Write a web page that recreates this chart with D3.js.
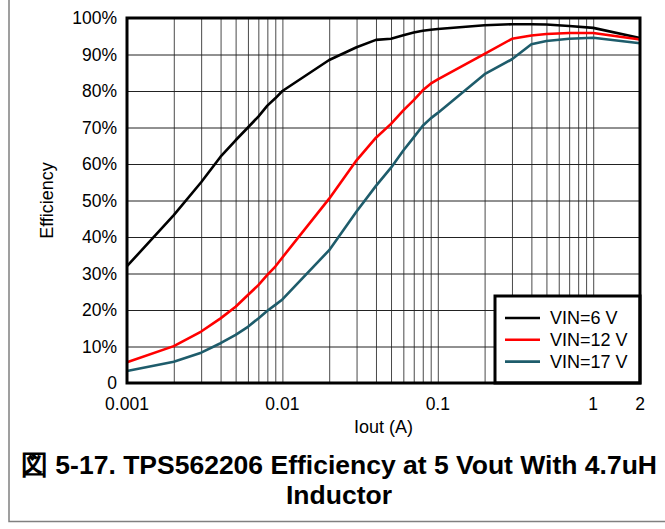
<!DOCTYPE html>
<html>
<head>
<meta charset="utf-8">
<script src="https://cdn.jsdelivr.net/npm/d3@7"></script>
<style>
	body { margin: 0; background: #fff; }
	svg { display: block; font-family: "Liberation Sans", Arial, sans-serif; }
</style>
</head>
<body>
<svg class="chart-container" width="665" height="529"></svg>
<script>
// data
const currents = [0.001, 0.002, 0.003, 0.004, 0.005, 0.006, 0.007, 0.008, 0.009, 0.01,
	0.02, 0.03, 0.04, 0.05, 0.06, 0.07, 0.08, 0.09, 0.1, 0.2, 0.3, 0.4, 0.5, 0.7, 1, 2];
const vin6 = [32, 46, 55, 62, 66.5, 70, 73, 76, 78, 80,
	88.5, 92, 94, 94.3, 95.3, 96, 96.5, 96.8, 97, 98, 98.3, 98.3, 98.2, 97.8, 97.3, 94.5];
const vin12 = [5.7, 10.1, 14.1, 17.7, 20.9, 24.1, 26.8, 29.6, 31.9, 34.4,
	50.5, 61, 67.2, 71, 74.7, 77.5, 80.2, 82, 83.2, 90.2, 94.3, 95.2, 95.6, 95.9, 95.9, 94.1];
const vin17 = [3.3, 5.8, 8.3, 10.9, 13.2, 15.4, 17.7, 19.8, 21.4, 22.9,
	36.4, 47, 54, 59, 63.7, 67.3, 70.5, 72.5, 74, 84.6, 88.7, 92.8, 93.7, 94.3, 94.6, 93.1];

const seriesNames = ['VIN=6 V', 'VIN=12 V', 'VIN=17 V'];
const seriesColors = ['#000000', '#ff0000', '#1e5c6b'];
const xTickValues = [0.001, 0.01, 0.1, 1, 2];
const yTickValues = [0, 10, 20, 30, 40, 50, 60, 70, 80, 90, 100];
const titleLines = ['図 5-17. TPS562206 Efficiency at 5 Vout With 4.7uH', 'Inductor'];

// margin conventions
const margin = { top: 18, right: 25, bottom: 146, left: 127 };
const width = 665 - margin.left - margin.right;
const height = 529 - margin.top - margin.bottom;

const x = d3.scaleLog().domain([0.001, 2]).range([0, width]);
const y = d3.scaleLinear().domain([0, 100]).range([height, 0]);

const svg = d3.select('.chart-container');

// outer frame of the figure
svg.append('path')
	.attr('d', 'M9,-2 L9,521.5 L670,521.5')
	.attr('fill', 'none')
	.attr('stroke', '#808080')
	.attr('stroke-width', 1.5);

const plot = svg.append('g').attr('transform', 'translate(' + margin.left + ',' + margin.top + ')');

// grid lines: every 1..9 of each decade
const minorTicks = [];
[0.001, 0.01, 0.1, 1].forEach(function(dec) {
	for (let k = 1; k <= 9; k++) {
		const v = dec * k;
		if (v > 0.001 && v < 2) minorTicks.push(v);
	}
});

plot.append('g')
	.attr('class', 'grid-x')
	.attr('transform', 'translate(0,' + height + ')')
	.call(d3.axisBottom(x).tickValues(minorTicks).tickSize(-height).tickFormat(''))
	.call(g => g.select('.domain').remove())
	.call(g => g.selectAll('line').attr('stroke', '#4a4a4a').attr('stroke-width', 1));

plot.append('g')
	.attr('class', 'grid-y')
	.call(d3.axisLeft(y).tickValues(yTickValues.slice(1, -1)).tickSize(-width).tickFormat(''))
	.call(g => g.select('.domain').remove())
	.call(g => g.selectAll('line').attr('stroke', '#222').attr('stroke-width', 1));

// curves
const allSeries = [vin6, vin12, vin17];
const line = d3.line()
	.x(function(d, i) { return x(currents[i]); })
	.y(function(d) { return y(d); });

plot.append('g')
	.selectAll('path')
	.data(allSeries)
	.enter()
	.append('path')
	.attr('d', line)
	.attr('fill', 'none')
	.attr('stroke', function(d, i) { return seriesColors[i]; })
	.attr('stroke-width', 2.6)
	.attr('stroke-linejoin', 'round');

// legend box sits in the lower right corner
const legendW = 145, legendH = 87;
const legend = plot.append('g')
	.attr('transform', 'translate(' + (width - legendW) + ',' + (height - legendH) + ')');

legend.append('rect')
	.attr('width', legendW)
	.attr('height', legendH)
	.attr('fill', '#fff')
	.attr('stroke', '#000')
	.attr('stroke-width', 3);

const legendRows = legend.selectAll('.legend-row')
	.data(seriesNames)
	.enter()
	.append('g')
	.attr('class', 'legend-row')
	.attr('transform', function(d, i) { return 'translate(0,' + (22 + i * 21.8) + ')'; });

legendRows.append('line')
	.attr('x1', 10).attr('x2', 45)
	.attr('stroke', function(d, i) { return seriesColors[i]; })
	.attr('stroke-width', 2.6);

legendRows.append('text')
	.attr('x', 55)
	.attr('dy', '0.35em')
	.attr('font-size', 18)
	.attr('fill', '#000')
	.text(function(d) { return d; });

// plot frame
plot.append('rect')
	.attr('width', width)
	.attr('height', height)
	.attr('fill', 'none')
	.attr('stroke', '#000')
	.attr('stroke-width', 3);

// tick labels
plot.append('g')
	.selectAll('text')
	.data(yTickValues)
	.enter()
	.append('text')
	.attr('x', -10)
	.attr('y', function(d) { return y(d); })
	.attr('dy', '0.35em')
	.attr('text-anchor', 'end')
	.attr('font-size', 17.5)
	.text(function(d) { return d === 0 ? '0' : d + '%'; });

plot.append('g')
	.selectAll('text')
	.data(xTickValues)
	.enter()
	.append('text')
	.attr('x', function(d) { return x(d); })
	.attr('y', height + 27)
	.attr('text-anchor', 'middle')
	.attr('font-size', 17.5)
	.text(function(d) { return String(d); });

// axis titles
plot.append('text')
	.attr('x', width / 2)
	.attr('y', height + 50)
	.attr('text-anchor', 'middle')
	.attr('font-size', 18)
	.text('Iout (A)');

plot.append('text')
	.attr('transform', 'translate(' + (-74) + ',' + (height / 2) + ') rotate(-90)')
	.attr('text-anchor', 'middle')
	.attr('font-size', 18)
	.text('Efficiency');

// figure caption
svg.append('g')
	.selectAll('text')
	.data(titleLines)
	.enter()
	.append('text')
	.attr('x', 339)
	.attr('y', function(d, i) { return 474 + i * 30; })
	.attr('text-anchor', 'middle')
	.attr('font-size', 26.5)
	.attr('font-weight', 'bold')
	.text(function(d) { return d; });
</script>
</body>
</html>
